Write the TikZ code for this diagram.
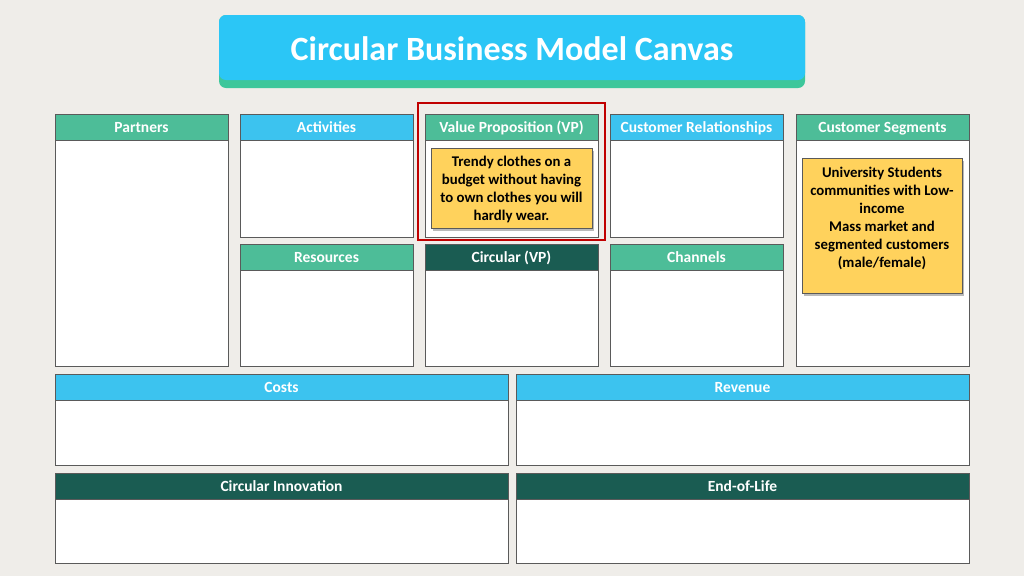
\documentclass[tikz,border=0pt]{standalone}
\usepackage{fontspec}
\setmainfont{Carlito}
\usetikzlibrary{shadows}

\definecolor{paper}{HTML}{EFEDE9}
\definecolor{titleblue}{HTML}{2BC6F6}
\definecolor{titlegreen}{HTML}{3DC79B}
\definecolor{hgreen}{HTML}{4DBD98}
\definecolor{hblue}{HTML}{3CC3EF}
\definecolor{hdark}{HTML}{1A5C52}
\definecolor{edge}{HTML}{5A5A5A}
\definecolor{notefill}{HTML}{FFD25C}
\definecolor{frame}{HTML}{C00000}

\tikzset{
  cell/.style={draw=edge, line width=0.9pt, fill=white},
  hdr/.style={draw=edge, line width=0.9pt, minimum height=26pt, inner sep=0pt,
    text height=12.5pt, text depth=1.5pt,
    text=white, font=\fontsize{15.5}{18}\selectfont\bfseries},
  hdrgreen/.style={hdr, fill=hgreen},
  hdrblue/.style={hdr, fill=hblue},
  hdrdark/.style={hdr, fill=hdark},
  sticky/.style={draw=edge, line width=0.6pt, fill=notefill, inner sep=0pt,
    drop shadow={shadow xshift=2pt, shadow yshift=-3pt, fill=black!45, opacity=0.6}},
  notetext/.style={align=center, inner sep=0pt,
    font=\fontsize{14.8}{18}\selectfont\bfseries},
}

\begin{document}
\begin{tikzpicture}[x=1pt,y=-1pt]
\fill[paper] (0,0) rectangle (1024,576);
\useasboundingbox (0,0) rectangle (1024,576);
% title
\fill[titlegreen, rounded corners=7pt] (219,15) rectangle (805,88);
\fill[titleblue, rounded corners=7pt] (219,15) rectangle (805,80);
\node[text=white, font=\fontsize{34}{38}\selectfont\bfseries] (title) at (512,49) {Circular Business Model Canvas};
% upper row
\draw[cell] (55,114) rectangle (228,366);
\node[hdrgreen, minimum width=173pt] (partners) at (141.5,127) {Partners};
\draw[cell] (240,114) rectangle (413,237);
\node[hdrblue, minimum width=173pt] (activities) at (326.5,127) {Activities};
\draw[cell] (240,244) rectangle (413,366);
\node[hdrgreen, minimum width=173pt] (resources) at (326.5,257) {Resources};
\draw[cell] (425,114) rectangle (598,237);
\node[hdrgreen, minimum width=173pt] (vp) at (511.5,127) {Value Proposition (VP)};
\draw[cell] (425,244) rectangle (598,366);
\node[hdrdark, minimum width=173pt] (circvp) at (511.5,257) {Circular (VP)};
\draw[cell] (610,114) rectangle (783,237);
\node[hdrblue, minimum width=173pt] (relations) at (696.5,127) {Customer Relationships};
\draw[cell] (610,244) rectangle (783,366);
\node[hdrgreen, minimum width=173pt] (channels) at (696.5,257) {Channels};
\draw[cell] (796,114) rectangle (969,366);
\node[hdrgreen, minimum width=173pt] (segments) at (882.5,127) {Customer Segments};
% lower rows
\draw[cell] (55,374) rectangle (508,465);
\node[hdrblue, minimum width=453pt] (costs) at (281.5,387) {Costs};
\draw[cell] (516,374) rectangle (969,465);
\node[hdrblue, minimum width=453pt] (revenue) at (742.5,387) {Revenue};
\draw[cell] (55,473) rectangle (508,563);
\node[hdrdark, minimum width=453pt] (innovation) at (281.5,486) {Circular Innovation};
\draw[cell] (516,473) rectangle (969,563);
\node[hdrdark, minimum width=453pt] (endoflife) at (742.5,486) {End-of-Life};
% notes
\node[sticky, minimum width=161pt, minimum height=80pt] (vpnote) at (511.5,188) {};
\node[notetext] (vptext) at ([yshift=-1pt]vpnote) {Trendy clothes on a\\budget without having\\to own clothes you will\\hardly wear.};
\node[sticky, minimum width=160pt, minimum height=135pt, anchor=north] (csnote) at (882,158) {};
\node[notetext, anchor=north] (cstext) at ([yshift=-9pt]csnote.north) {University Students\\communities with Low-\\income\\Mass market and\\segmented customers\\(male/female)};
% highlight
\draw[frame, line width=2.5pt] (418,103) rectangle (605,240);
\end{tikzpicture}
\end{document}
